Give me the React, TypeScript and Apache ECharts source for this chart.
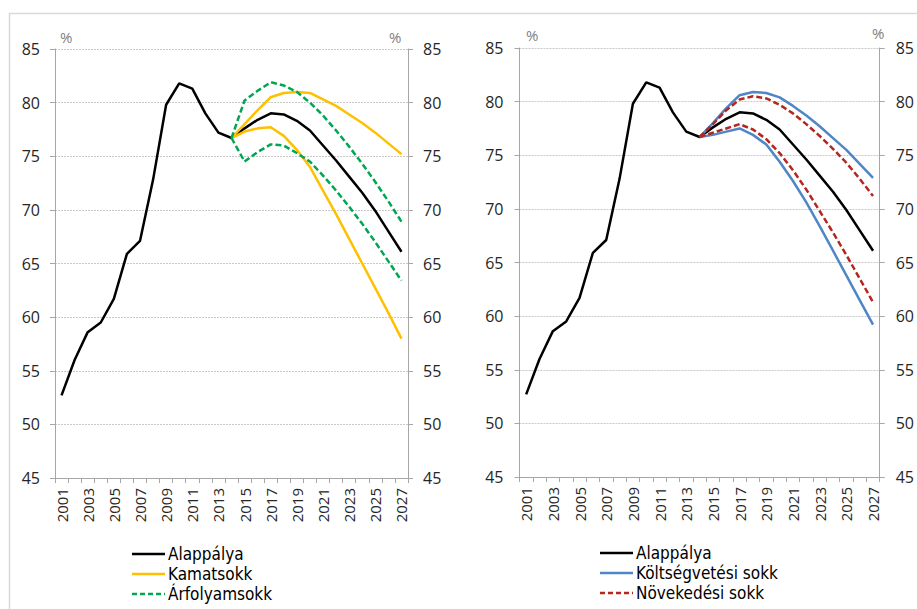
import React, { useEffect, useRef } from "react";
import * as echarts from "echarts";

const years = Array.from({ length: 27 }, (_, i) => String(2001 + i));
const yTicks = [45, 50, 55, 60, 65, 70, 75, 80, 85];

const baseline = [52.7, 56.0, 58.6, 59.5, 61.7, 65.9, 67.1, 72.8, 79.8, 81.8, 81.3, 79.0, 77.2, 76.7, 77.6, 78.4, 79.0, 78.9, 78.3, 77.4, 76.0, 74.6, 73.1, 71.6, 69.9, 68.0, 66.1];

const pre = Array(13).fill(null);
const kamatUp = [...pre, 76.7, 78.0, 79.3, 80.5, 80.9, 81.0, 80.9, 80.3, 79.7, 78.9, 78.1, 77.2, 76.2, 75.2];
const kamatDown = [...pre, 76.7, 77.3, 77.6, 77.7, 76.9, 75.6, 74.0, 71.8, 69.6, 67.3, 65.0, 62.7, 60.4, 58.0];
const arfUp = [...pre, 76.7, 80.2, 81.1, 81.9, 81.6, 81.0, 80.0, 78.8, 77.4, 75.9, 74.3, 72.6, 70.8, 68.9];
const arfDown = [...pre, 76.7, 74.5, 75.4, 76.1, 76.0, 75.3, 74.5, 73.2, 71.8, 70.3, 68.7, 67.0, 65.2, 63.4];

const koltUp = [...pre, 76.7, 78.0, 79.4, 80.6, 80.9, 80.8, 80.4, 79.6, 78.7, 77.7, 76.6, 75.5, 74.2, 72.9];
const koltDown = [...pre, 76.7, 76.9, 77.2, 77.5, 76.9, 76.0, 74.4, 72.6, 70.6, 68.4, 66.1, 63.8, 61.5, 59.2];
const novUp = [...pre, 76.7, 77.9, 79.2, 80.2, 80.5, 80.3, 79.7, 78.9, 77.9, 76.8, 75.6, 74.3, 72.8, 71.2];
const novDown = [...pre, 76.7, 77.1, 77.5, 77.9, 77.4, 76.5, 75.2, 73.6, 71.8, 69.8, 67.8, 65.7, 63.5, 61.3];

const names = {
  base: "Alappálya",
  kamat: "Kamatsokk",
  arf: "Árfolyamsokk",
  kolt: "Költségvetési sokk",
  nov: "Növekedési sokk",
};

const AX = "#a6a6a6";
const LABEL = "#262626";
const AXFONT = "'Open Sans', 'DejaVu Sans', sans-serif";
const LEGFONT = "'DejaVu Sans Condensed', 'DejaVu Sans', sans-serif";

const BLACK = "#000000";
const YELLOW = "#ffc000";
const GREEN = "#00a651";
const BLUE = "#4f86c6";
const RED = "#b5261e";
const DASH = [6, 3];

const makeX = (gi: number) => ({
  type: "category",
  gridIndex: gi,
  data: years,
  boundaryGap: true,
  axisLine: { show: true, lineStyle: { color: AX, width: 1 } },
  axisTick: { show: true, interval: 0, length: 5, lineStyle: { color: AX } },
  axisLabel: {
    interval: 1,
    rotate: 90,
    margin: 10,
    fontSize: 15,
    fontFamily: AXFONT,
    color: LABEL,
  },
  splitLine: { show: false },
});

const makeY = (gi: number, pos: "left" | "right", margin: number, split: boolean) => ({
  type: "value",
  gridIndex: gi,
  position: pos,
  min: 45,
  max: 85,
  interval: 5,
  axisLine: { show: true, lineStyle: { color: AX, width: 1 } },
  axisTick: { show: true, length: 5, lineStyle: { color: AX } },
  axisLabel: {
    margin,
    fontSize: 16,
    fontFamily: AXFONT,
    color: LABEL,
    formatter: (v: number) => (yTicks.includes(v) ? String(v) : ""),
  },
  splitLine: split
    ? { show: true, lineStyle: { color: "#c8c8c8", type: [2, 1], width: 1 } }
    : { show: false },
});

const line = (
  name: string,
  data: (number | null)[],
  color: string,
  xi: number,
  yi: number,
  dashed = false
) => ({
  name,
  type: "line",
  xAxisIndex: xi,
  yAxisIndex: yi,
  data,
  symbol: "none",
  showSymbol: false,
  connectNulls: false,
  lineStyle: { color, width: 2.5, type: dashed ? DASH : "solid" },
  itemStyle: { color },
  emphasis: { disabled: true },
});

const legendItem = (x: number, y: number, text: string, color: string, dashed: boolean) => [
  {
    type: "line",
    silent: true,
    shape: { x1: x, y1: y, x2: x + 33, y2: y },
    style: { stroke: color, lineWidth: 2.5, lineDash: dashed ? [5, 3] : null },
  },
  {
    type: "text",
    silent: true,
    x: x + 36,
    y: y,
    style: {
      text,
      fontSize: 17,
      fontFamily: LEGFONT,
      fill: "#000",
      textAlign: "left",
      textVerticalAlign: "middle",
    },
  },
];

const pct = (x: number, y: number) => ({
  type: "text",
  silent: true,
  x,
  y,
  style: { text: "%", fontSize: 15, fontFamily: AXFONT, fill: "#808080" },
});

export default function App() {
  const ref = useRef<HTMLDivElement>(null);
  useEffect(() => {
    if (!ref.current) return;
    const chart = echarts.init(ref.current, undefined, { renderer: "svg" });
    chart.setOption({
      animation: false,
      backgroundColor: "#fff",
      grid: [
        { left: 55, right: 917 - 408, top: 49, bottom: 609 - 478, containLabel: false },
        { left: 519.5, right: 917 - 886, top: 48, bottom: 609 - 477, containLabel: false },
      ],
      xAxis: [makeX(0), makeX(1)],
      yAxis: [
        makeY(0, "left", 15, true),
        makeY(0, "right", 15, false),
        makeY(1, "left", 16, true),
        makeY(1, "right", 16, false),
      ],
      graphic: [
        {
          type: "rect",
          silent: true,
          shape: { x: 9.5, y: 13.5, width: 1000, height: 800 },
          style: { fill: "none", stroke: "#d9d9d9", lineWidth: 1.5 },
        },
        pct(60, 29),
        pct(389, 29),
        pct(526, 27),
        pct(872, 25),
        ...legendItem(132, 554, names.base, BLACK, false),
        ...legendItem(132, 574, names.kamat, YELLOW, false),
        ...legendItem(132, 594, names.arf, GREEN, true),
        ...legendItem(600, 553, names.base, BLACK, false),
        ...legendItem(600, 573, names.kolt, BLUE, false),
        ...legendItem(600, 593, names.nov, RED, true),
      ],
      series: [
        line(names.base, baseline, BLACK, 0, 0),
        line(names.kamat, kamatUp, YELLOW, 0, 0),
        line(names.kamat, kamatDown, YELLOW, 0, 0),
        line(names.arf, arfUp, GREEN, 0, 0, true),
        line(names.arf, arfDown, GREEN, 0, 0, true),
        line(names.base, baseline, BLACK, 1, 2),
        line(names.kolt, koltUp, BLUE, 1, 2),
        line(names.kolt, koltDown, BLUE, 1, 2),
        line(names.nov, novUp, RED, 1, 2, true),
        line(names.nov, novDown, RED, 1, 2, true),
      ],
    });
    return () => chart.dispose();
  }, []);
  return (
    <div
      ref={ref}
      style={{ position: "absolute", left: 0, top: 0, width: 917, height: 609, overflow: "hidden" }}
    />
  );
}
